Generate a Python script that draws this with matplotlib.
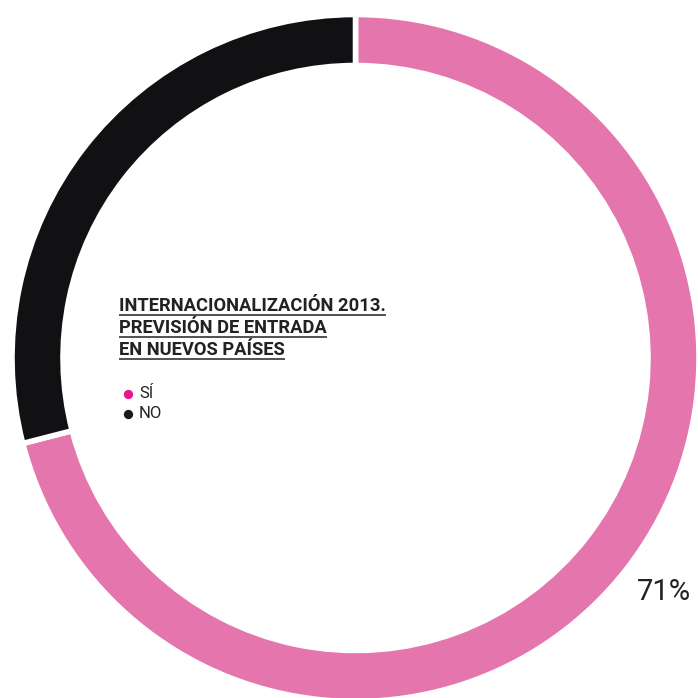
import matplotlib
matplotlib.use("Agg")
import matplotlib.pyplot as plt

# Data
categories = ["SÍ", "NO"]
shares = [71, 29]
ring_colors = ["#E475AD", "#111113"]
legend_colors = ["#E8168C", "#1A1A1A"]
title_lines = ["INTERNACIONALIZACIÓN 2013.", "PREVISIÓN DE ENTRADA", "EN NUEVOS PAÍSES"]
value_label = f"{shares[0]}%"

W = H = 698
fig = plt.figure(figsize=(W / 100, H / 100), dpi=100)
ax = fig.add_axes([0, 0, 1, 1])

cx, cy, R = 355.5, H - 358, 343.5
ax.pie(shares, colors=ring_colors, startangle=90, counterclock=False,
       center=(cx, cy), radius=R, frame=True,
       wedgeprops=dict(width=51, edgecolor="white", linewidth=4))
ax.set_xlim(0, W)
ax.set_ylim(0, H)
ax.set_aspect("equal")
ax.axis("off")

# Title block with underlines
fig.canvas.draw()
renderer = fig.canvas.get_renderer()
y0 = H - 311
for i, line in enumerate(title_lines):
    y = y0 - i * 22
    t = ax.text(119, y, line, fontsize=13.2, fontweight="bold", family="Roboto",
                color="#222222", ha="left", va="baseline")
    bb = t.get_window_extent(renderer=renderer)
    ax.plot([bb.x0, bb.x1], [y - 4, y - 4], color="#222222", lw=1.1,
            solid_capstyle="butt")

# Legend
for i, (name, col) in enumerate(zip(categories, legend_colors)):
    y = H - 394 - i * 20
    ax.scatter([128], [y], s=45, color=col, linewidths=0, zorder=5)
    ax.text(139, y, name, fontsize=12, family="Roboto", color="#222222",
            ha="left", va="center")

ax.text(637, H - 592, value_label, fontsize=21, family="Roboto",
        color="#222222", ha="left", va="center")

fig.savefig("out.png", dpi=100)
